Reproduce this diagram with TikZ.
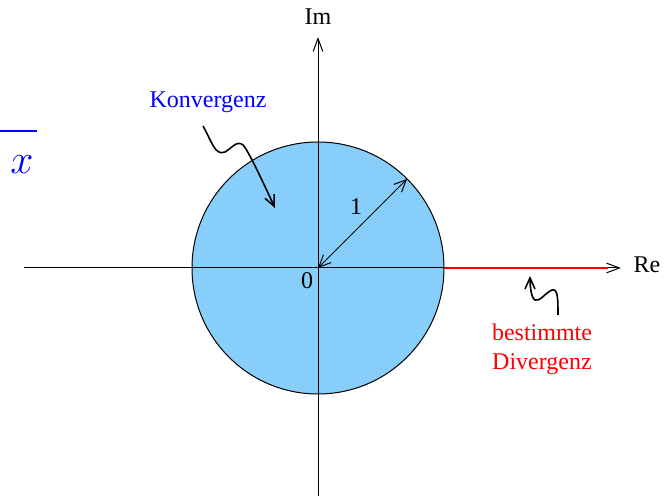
\documentclass[tikz,border=0pt]{standalone}
\usepackage{fontspec}
\setmainfont{Liberation Serif}
\usetikzlibrary{arrows.meta}
\definecolor{conv}{RGB}{135,206,250}
\begin{document}
\begin{tikzpicture}[x=0.5pt,y=-0.5pt,font=\fontsize{12}{14}\selectfont,
  axis/.style={line width=0.5pt,-{Straight Barb[length=6.5pt,width=4.8pt]}},
  radarr/.style={line width=0.5pt,{Straight Barb[length=6pt,width=5.5pt]}-{Straight Barb[length=6pt,width=5.5pt]}},
  squig/.style={line width=0.8pt,-{Straight Barb[length=5.5pt,width=5pt]}},
  lbl/.style={inner sep=0pt}]
\useasboundingbox (0,0) rectangle (670,496);
\coordinate (O) at (318,268);
% disc
\fill[conv] (O) circle[radius=126];
% axes
\coordinate (xl) at (24,268);
\coordinate (xr) at (621,268);
\coordinate (yb) at (318,496);
\coordinate (yt) at (318,37);
\coordinate (c1) at (444,268);
\coordinate (c2) at (608,268);
\draw[axis] (xl) -- (xr);
\draw[axis] (yb) -- (yt);
\draw[red,line width=1pt] (c1) -- (c2);
\draw[line width=0.5pt] (O) circle[radius=126];
\node[lbl] (re) at (647,265) {Re};
\node[lbl] (im) at (318,17) {Im};
% radius
\coordinate (R) at (407,179);
\draw[radarr] (O) -- (R);
\node[lbl] (one) at (356,207) {1};
\node[lbl] (zero) at (307,281) {0};
% Konvergenz
\node[lbl,text=blue] (konv) at (208,102) {Konvergenz};
\coordinate (k0) at (203,126);
\coordinate (k1) at (275,208);
\draw[squig] (k0) .. controls (212,142) and (215,156) .. (225,152)
  .. controls (232,148) and (237,140) .. (243,145)
  .. controls (248,150) and (262,180) .. (k1);
% Divergenz
\node[lbl,text=red] (div1) at (542,332) {bestimmte};
\node[lbl,text=red] (div2) at (542,364) {Divergenz};
\coordinate (d0) at (558,315);
\coordinate (d1) at (530,276);
\draw[squig] (d0) .. controls (558,300) and (558,288) .. (552,290)
  .. controls (545,293) and (540,302) .. (535,300)
  .. controls (531,298) and (530,285) .. (d1);
% cut-off fraction
\coordinate (f0) at (0,131);
\coordinate (f1) at (37,131);
\draw[blue,line width=1pt] (f0) -- (f1);
\node[lbl,text=blue,font=\fontsize{21}{24}\selectfont] (xv) at (22,165) {$x$};
\end{tikzpicture}
\end{document}
